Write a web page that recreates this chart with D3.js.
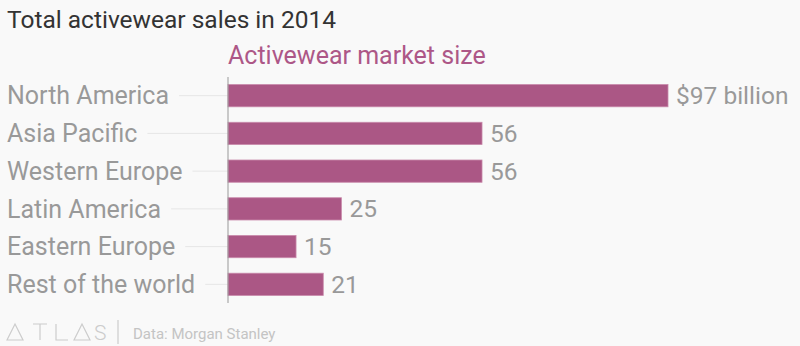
<!DOCTYPE html>
<html>
<head>
<meta charset="utf-8">
<script src="https://cdnjs.cloudflare.com/ajax/libs/d3/7.8.5/d3.min.js"></script>
<style>
  body { margin: 0; background: #f9f9f9; }
  svg { display: block; font-family: Roboto, "Open Sans", sans-serif; }
</style>
</head>
<body>
<div id="chart"></div>
<script>
const regions = ["North America", "Asia Pacific", "Western Europe", "Latin America", "Eastern Europe", "Rest of the world"];
const sales = [97, 56, 56, 25, 15, 21];
const valueLabels = ["$97 billion", "56", "56", "25", "15", "21"];

const width = 800, height = 346;
const margin = { top: 77, left: 228, right: 132, bottom: 43 };

const svg = d3.select("#chart").append("svg")
    .attr("width", width)
    .attr("height", height);

svg.append("rect").attr("width", width).attr("height", height).attr("fill", "#f9f9f9");

const x = d3.scaleLinear()
    .domain([0, 97])
    .range([margin.left, width - margin.right]);

const y = d3.scaleBand()
    .domain(regions)
    .range([margin.top, height - margin.bottom])
    .paddingInner(0.41)
    .paddingOuter(0.2);

// title
svg.append("text")
    .attr("x", 7).attr("y", 28)
    .attr("font-size", 24.5)
    .attr("fill", "#333")
    .text("Total activewear sales in 2014");

svg.append("text")
    .attr("x", margin.left).attr("y", 64)
    .attr("font-size", 25)
    .attr("fill", "#ad5787")
    .text("Activewear market size");

// category labels + gridlines
const cats = svg.append("g");
regions.forEach(r => {
    const cy = y(r) + y.bandwidth() / 2;
    const t = cats.append("text")
        .attr("x", 7).attr("y", cy)
        .attr("dy", "0.35em")
        .attr("font-size", 25)
        .attr("fill", "#999")
        .text(r);
    const end = t.node().getBBox().x + t.node().getBBox().width;
    cats.append("line")
        .attr("x1", end + 10).attr("x2", margin.left)
        .attr("y1", cy).attr("y2", cy)
        .attr("stroke", "#e6e6e6")
        .attr("stroke-width", 1);
});

// bars
svg.append("g").selectAll("rect")
    .data(regions)
    .join("rect")
    .attr("x", x(0))
    .attr("y", d => y(d))
    .attr("width", (d, i) => x(sales[i]) - x(0))
    .attr("height", y.bandwidth())
    .attr("fill", "#ab5785")
    .attr("stroke", "#c98aab")
    .attr("stroke-width", 0.8);

// value labels
svg.append("g").selectAll("text")
    .data(regions)
    .join("text")
    .attr("x", (d, i) => x(sales[i]) + 8)
    .attr("y", d => y(d) + y.bandwidth() / 2)
    .attr("dy", "0.35em")
    .attr("font-size", 24.5)
    .attr("fill", "#999")
    .text((d, i) => valueLabels[i]);

// axis line
svg.append("line")
    .attr("x1", margin.left).attr("x2", margin.left)
    .attr("y1", margin.top).attr("y2", height - margin.bottom)
    .attr("stroke", "#999")
    .attr("stroke-width", 1);

// footer logo
const logo = svg.append("g")
    .attr("fill", "none")
    .attr("stroke", "#ccc")
    .attr("stroke-width", 1.2);
const by = 340, ty = 324;
logo.append("path").attr("d", `M7,${by} L15,${ty} L23,${by} Z`);
logo.append("path").attr("d", `M33,${ty} H47 M40,${ty} V${by}`);
logo.append("path").attr("d", `M56,${ty} V${by} H68`);
logo.append("path").attr("d", `M74,${by} L82,${ty} L90,${by} Z`);
svg.append("text")
    .attr("x", 94).attr("y", by)
    .attr("font-size", 21)
    .attr("font-weight", 300)
    .attr("fill", "#ccc")
    .text("S");
logo.append("line")
    .attr("x1", 118).attr("x2", 118)
    .attr("y1", 320).attr("y2", 344);

svg.append("text")
    .attr("x", 133).attr("y", 339)
    .attr("font-size", 15)
    .attr("fill", "#c4c4c4")
    .text("Data: Morgan Stanley");
</script>
</body>
</html>
